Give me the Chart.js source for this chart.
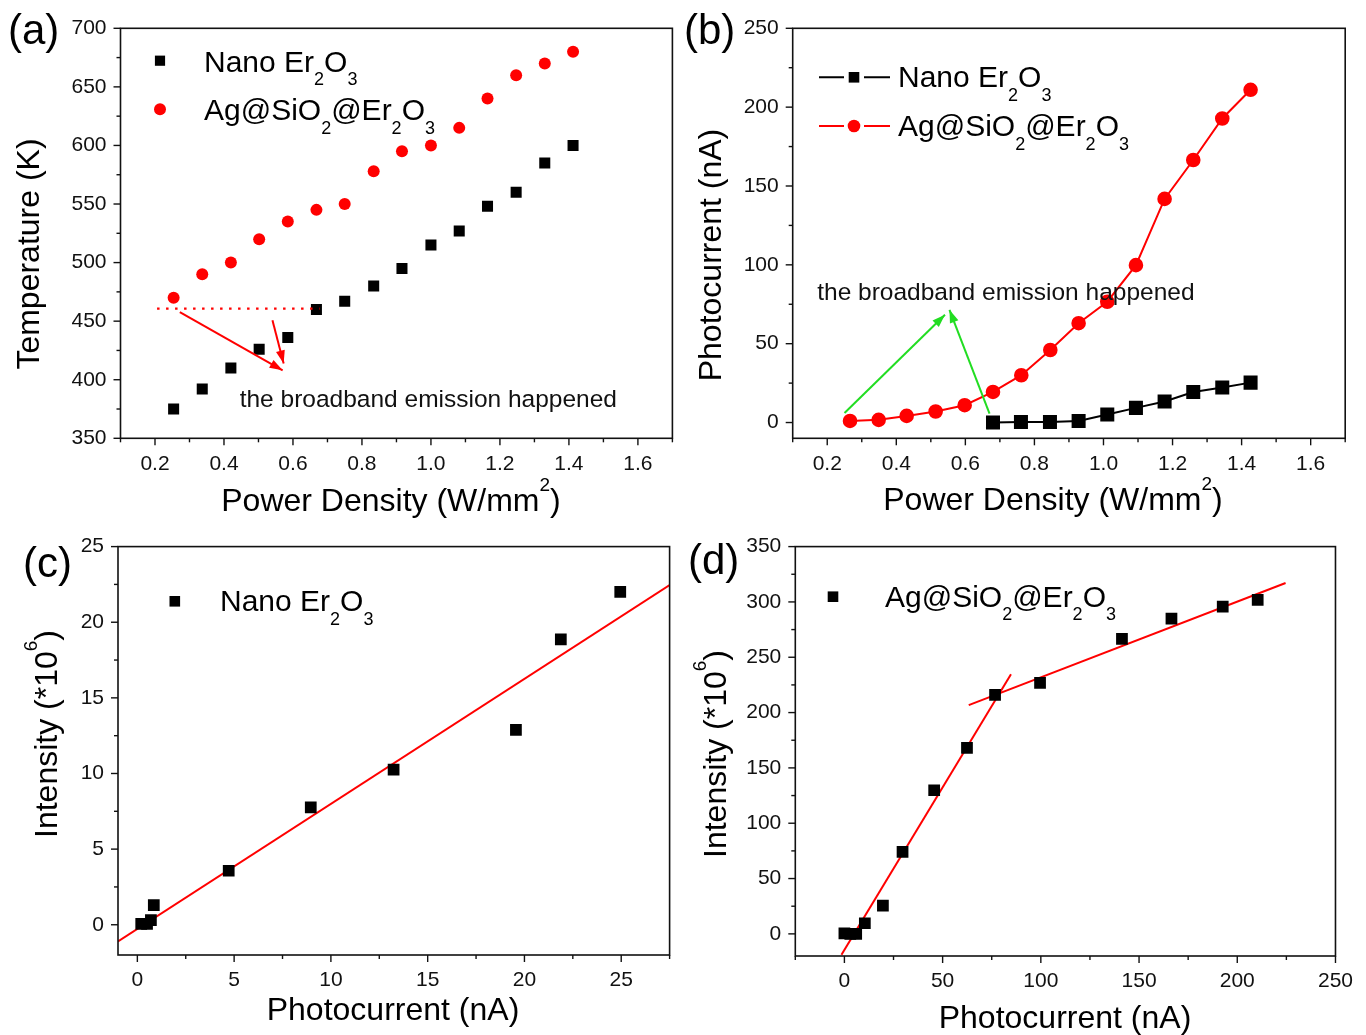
<!DOCTYPE html>
<html>
<head>
<meta charset="utf-8">
<script src="https://cdn.jsdelivr.net/npm/chart.js@4.4.1/dist/chart.umd.min.js"></script>
<style>
  body { margin: 0; background: #fff; }
  .panel { position: absolute; }
</style>
</head>
<body>
<div class="panel" style="left:0;top:0"><canvas id="chartA" width="683" height="520"></canvas></div>
<div class="panel" style="left:683px;top:0"><canvas id="chartB" width="683" height="520"></canvas></div>
<div class="panel" style="left:0;top:520px"><canvas id="chartC" width="683" height="515"></canvas></div>
<div class="panel" style="left:683px;top:520px"><canvas id="chartD" width="683" height="515"></canvas></div>
<script>
// (a) temperature vs power density
const powerA = [0.254, 0.337, 0.42, 0.502, 0.585, 0.668, 0.75, 0.834, 0.916, 1.0, 1.082, 1.164, 1.247, 1.33, 1.412];
const tempNano = [375, 392, 410, 426, 436, 460, 467, 480, 495, 515, 527, 548, 560, 585, 600];
const tempAg = [470, 490, 500, 520, 535, 545, 550, 578, 595, 600, 615, 640, 660, 670, 680];
const dottedAx = [0.206, 0.677], dottedAy = [460.7, 460.7];
const arrowA1x = [0.272, 0.57], arrowA1y = [457.8, 408];
const arrowA2x = [0.5405, 0.573], arrowA2y = [450.7, 413.8];
const noteA = [0.4455, 377];

// (b) photocurrent vs power density
const powerAgB = [0.266, 0.349, 0.43, 0.514, 0.598, 0.68, 0.762, 0.846, 0.928, 1.011, 1.094, 1.177, 1.26, 1.344, 1.426];
const currentAg = [1, 1.7, 4.2, 7, 11, 19.4, 30, 46, 63, 76.6, 99.8, 141.8, 166.5, 192.8, 211];
const powerNanoB = [0.68, 0.761, 0.845, 0.928, 1.011, 1.094, 1.177, 1.26, 1.344, 1.426];
const currentNano = [0, 0.4, 0.4, 1, 5.1, 9.3, 13.3, 19.4, 22.2, 25.3];
const arrowB1x = [0.25, 0.541], arrowB1y = [6.1, 68.4];
const arrowB2x = [0.67, 0.554], arrowB2y = [5.7, 71.5];
const noteB = [0.171, 77.6];

// (c) intensity vs photocurrent, nano
const currentC = [0.2, 0.5, 0.7, 0.85, 4.72, 8.96, 13.24, 19.56, 21.88, 24.95];
const intensityC = [0.05, 0.05, 0.3, 1.3, 3.57, 7.76, 10.25, 12.88, 18.87, 22.0];
const fitCx = [-1, 27.5], fitCy = [-1.1, 22.45];

// (d) intensity vs photocurrent, Ag@SiO2
const currentD = [0, 3, 6, 10.4, 19.6, 29.6, 45.7, 62.4, 76.7, 99.6, 141.3, 166.5, 192.6, 210.4];
const intensityD = [0.5, 0, 0, 9.6, 25.5, 74, 129.8, 168, 216, 226.8, 266.7, 285, 295.8, 301.8];
const fitD1x = [-1.5, 84.8], fitD1y = [-18.9, 234.6];
const fitD2x = [63.3, 224.6], fitD2y = [206.7, 317.1];

const FONT = '"Liberation Sans", Arial, sans-serif';
const RED = '#ff0000', GREEN = '#22dd22', BLACK = '#000000';

const pts = (xs, ys) => xs.map((x, i) => ({ x: x, y: ys[i] }));

// text with _x subscripts and ^x superscripts
function richText(ctx, str, x, y, size, align) {
  const parts = [];
  for (let i = 0; i < str.length; i++) {
    const c = str[i];
    if ((c === '_' || c === '^') && i + 1 < str.length) {
      parts.push({ t: str[i + 1], k: c });
      i++;
    } else if (parts.length && !parts[parts.length - 1].k) {
      parts[parts.length - 1].t += c;
    } else {
      parts.push({ t: c, k: '' });
    }
  }
  const fontOf = p => (p.k ? Math.round(size * 0.6) : size) + 'px ' + FONT;
  let total = 0;
  parts.forEach(p => { ctx.font = fontOf(p); p.w = ctx.measureText(p.t).width; total += p.w; });
  let cx = align === 'center' ? x - total / 2 : x;
  ctx.textAlign = 'left';
  ctx.textBaseline = 'alphabetic';
  parts.forEach(p => {
    ctx.font = fontOf(p);
    const dy = p.k === '_' ? size * 0.45 : (p.k === '^' ? -size * 0.64 : 0);
    ctx.fillText(p.t, cx, y + dy);
    cx += p.w;
  });
}

function drawMarker(ctx, style, r, x, y, color) {
  ctx.fillStyle = color;
  ctx.beginPath();
  if (style === 'rect') {
    const s = r * Math.SQRT1_2;
    ctx.rect(x - s, y - s, 2 * s, 2 * s);
  } else {
    ctx.arc(x, y, r, 0, Math.PI * 2);
  }
  ctx.fill();
}

const figurePlugin = {
  id: 'figure',
  afterDatasetsDraw(chart) {
    const ctx = chart.ctx;
    chart.data.datasets.forEach((ds, i) => {
      if (!ds.arrow) return;
      const d = chart.getDatasetMeta(i).data;
      const a = d[d.length - 2], b = d[d.length - 1];
      const ang = Math.atan2(b.y - a.y, b.x - a.x);
      ctx.save();
      ctx.fillStyle = ds.borderColor;
      ctx.translate(b.x, b.y);
      ctx.rotate(ang);
      ctx.beginPath();
      ctx.moveTo(0, 0);
      ctx.lineTo(-13, -4.5);
      ctx.lineTo(-13, 4.5);
      ctx.closePath();
      ctx.fill();
      ctx.restore();
    });
  },
  afterDraw(chart, args, o) {
    const ctx = chart.ctx;
    const area = chart.chartArea;
    const xs = chart.scales.x, ys = chart.scales.y;
    ctx.save();

    // frame
    ctx.strokeStyle = '#111';
    ctx.lineWidth = 1.6;
    ctx.strokeRect(area.left, area.top, area.right - area.left, area.bottom - area.top);

    // major + minor ticks, pointing out
    ctx.lineWidth = 1.4;
    const tickRun = (scale, minor, isX) => {
      const ratio = Math.round(scale.options.ticks.stepSize / minor);
      const k0 = Math.ceil(scale.min / minor - 1e-9), k1 = Math.floor(scale.max / minor + 1e-9);
      for (let k = k0; k <= k1; k++) {
        const p = scale.getPixelForValue(k * minor);
        const len = k % ratio === 0 ? 7 : 4;
        ctx.beginPath();
        if (isX) { ctx.moveTo(p, area.bottom); ctx.lineTo(p, area.bottom + len); }
        else { ctx.moveTo(area.left, p); ctx.lineTo(area.left - len, p); }
        ctx.stroke();
      }
    };
    tickRun(xs, o.minorX, true);
    tickRun(ys, o.minorY, false);

    // legend
    const lg = o.legend;
    let row = 0;
    chart.data.datasets.forEach(ds => {
      if (!ds.label) return;
      const y = lg.y + row * lg.dy;
      if (lg.line) {
        ctx.strokeStyle = ds.borderColor;
        ctx.lineWidth = 2;
        ctx.beginPath();
        ctx.moveTo(lg.lineFrom, y); ctx.lineTo(lg.x - 10, y);
        ctx.moveTo(lg.x + 10, y); ctx.lineTo(lg.lineTo, y);
        ctx.stroke();
      }
      drawMarker(ctx, ds.pointStyle, ds.legendRadius || ds.pointRadius, lg.x, y, ds.backgroundColor);
      ctx.fillStyle = BLACK;
      richText(ctx, ds.label, lg.textX, y + lg.shift, 30, 'left');
      row++;
    });

    // notes in data coordinates
    (o.notes || []).forEach(n => {
      ctx.fillStyle = '#111';
      richText(ctx, n.text, xs.getPixelForValue(n.x), ys.getPixelForValue(n.y), 24.5, 'left');
    });

    // axis titles
    ctx.fillStyle = BLACK;
    richText(ctx, o.xTitle.text, o.xTitle.x, o.xTitle.y, 32, 'center');
    ctx.save();
    ctx.translate(o.yTitle.x, o.yTitle.y);
    ctx.rotate(-Math.PI / 2);
    richText(ctx, o.yTitle.text, 0, 0, 32, 'center');
    ctx.restore();

    // panel letter
    richText(ctx, o.panel.text, o.panel.x, o.panel.y, 42, 'left');
    ctx.restore();
  }
};

function axis(min, max, step, digits, size, isX) {
  return {
    type: 'linear',
    min: min,
    max: max,
    grid: { display: false, drawTicks: false },
    border: { display: false },
    ticks: {
      stepSize: step,
      autoSkip: false,
      maxRotation: 0,
      padding: isX ? 13 : 14,
      color: '#111',
      font: { family: FONT, size: 21 },
      callback: v => Number(v).toFixed(digits)
    },
    afterBuildTicks: s => {
      const out = [];
      for (let k = Math.ceil(min / step - 1e-9); k * step <= max + 1e-9; k++) {
        out.push({ value: +(k * step).toFixed(6) });
      }
      s.ticks = out;
    },
    afterFit: s => { if (isX) s.height = size; else s.width = size; }
  };
}

function makeChart(id, w, h, area, xAx, yAx, datasets, fig) {
  return new Chart(document.getElementById(id), {
    type: 'scatter',
    data: { datasets: datasets },
    options: {
      responsive: false,
      animation: false,
      layout: { padding: { left: 0, top: area.t, right: w - area.r, bottom: 0 } },
      scales: {
        x: axis(xAx[0], xAx[1], xAx[2], xAx[3], h - area.b, true),
        y: axis(yAx[0], yAx[1], yAx[2], yAx[3], area.l, false)
      },
      plugins: { legend: { display: false }, tooltip: { enabled: false }, figure: fig }
    },
    plugins: [figurePlugin]
  });
}

const lineSet = (xs, ys, color, extra) => Object.assign({
  data: pts(xs, ys), showLine: true, borderColor: color, backgroundColor: color,
  borderWidth: 2, pointRadius: 0
}, extra || {});

// (a)
makeChart('chartA', 683, 520, { l: 120.5, t: 28.3, r: 672.4, b: 438.3 },
  [0.1, 1.7, 0.2, 1], [350, 700, 50, 0],
  [
    lineSet(dottedAx, dottedAy, RED, { borderDash: [2.5, 6.5], borderWidth: 2.2 }),
    lineSet(arrowA1x, arrowA1y, RED, { arrow: true }),
    lineSet(arrowA2x, arrowA2y, RED, { arrow: true }),
    { label: 'Nano Er_2O_3', data: pts(powerA, tempNano), pointStyle: 'rect', pointRadius: 7.8, legendRadius: 7.2,
      backgroundColor: BLACK, borderColor: BLACK, borderWidth: 0 },
    { label: 'Ag@SiO_2@Er_2O_3', data: pts(powerA, tempAg), pointStyle: 'circle', pointRadius: 6,
      backgroundColor: RED, borderColor: RED, borderWidth: 0 }
  ],
  {
    minorX: 0.1, minorY: 25,
    legend: { x: 160, y: 60.7, dy: 48.6, textX: 204, shift: 11 },
    notes: [{ text: 'the broadband emission happened', x: noteA[0], y: noteA[1] }],
    xTitle: { text: 'Power Density (W/mm^2)', x: 391, y: 511 },
    yTitle: { text: 'Temperature (K)', x: 39, y: 254 },
    panel: { text: '(a)', x: 8, y: 44 }
  });

// (b)
makeChart('chartB', 683, 520, { l: 109.7, t: 28.3, r: 662.2, b: 438.3 },
  [0.1, 1.7, 0.2, 1], [-10, 250, 50, 0],
  [
    lineSet(arrowB1x, arrowB1y, GREEN, { arrow: true }),
    lineSet(arrowB2x, arrowB2y, GREEN, { arrow: true }),
    { label: 'Nano Er_2O_3', data: pts(powerNanoB, currentNano), showLine: true, pointStyle: 'rect', pointRadius: 8.5,
      legendRadius: 7.5, backgroundColor: BLACK, borderColor: BLACK, borderWidth: 2 },
    { label: 'Ag@SiO_2@Er_2O_3', data: pts(powerAgB, currentAg), showLine: true, pointStyle: 'circle', pointRadius: 6.3,
      backgroundColor: RED, borderColor: RED, borderWidth: 2 }
  ],
  {
    minorX: 0.1, minorY: 25,
    legend: { x: 171, y: 77.3, dy: 48.7, textX: 215, shift: 10 },
    notes: [{ text: 'the broadband emission happened', x: noteB[0], y: noteB[1] }],
    xTitle: { text: 'Power Density (W/mm^2)', x: 370, y: 510 },
    yTitle: { text: 'Photocurrent (nA)', x: 38, y: 255 },
    panel: { text: '(b)', x: 1, y: 44 }
  });
figureLegendLines('chartB', 136, 207);

// (c)
makeChart('chartC', 683, 515, { l: 118, t: 25, r: 669.6, b: 435 },
  [-1, 27.5, 5, 0], [-2, 25, 5, 0],
  [
    { label: 'Nano Er_2O_3', data: pts(currentC, intensityC), pointStyle: 'rect', pointRadius: 8.3,
      legendRadius: 7.5, backgroundColor: BLACK, borderColor: BLACK, borderWidth: 0 },
    lineSet(fitCx, fitCy, RED)
  ],
  {
    minorX: 2.5, minorY: 2.5,
    legend: { x: 174.8, y: 81.3, dy: 0, textX: 220, shift: 10 },
    xTitle: { text: 'Photocurrent (nA)', x: 393, y: 500 },
    yTitle: { text: 'Intensity (*10^6)', x: 57, y: 214 },
    panel: { text: '(c)', x: 23, y: 57 }
  });

// (d)
makeChart('chartD', 683, 515, { l: 112.3, t: 25, r: 664.3, b: 436 },
  [-25, 250, 50, 0], [-20, 350, 50, 0],
  [
    { label: 'Ag@SiO_2@Er_2O_3', data: pts(currentD, intensityD), pointStyle: 'rect', pointRadius: 8.3,
      legendRadius: 7.5, backgroundColor: BLACK, borderColor: BLACK, borderWidth: 0 },
    lineSet(fitD1x, fitD1y, RED),
    lineSet(fitD2x, fitD2y, RED)
  ],
  {
    minorX: 25, minorY: 25,
    legend: { x: 150, y: 76.7, dy: 0, textX: 202, shift: 10 },
    xTitle: { text: 'Photocurrent (nA)', x: 382, y: 508 },
    yTitle: { text: 'Intensity (*10^6)', x: 43, y: 234 },
    panel: { text: '(d)', x: 5, y: 54 }
  });

// legend of (b) shows line samples around the markers
function figureLegendLines(id, from, to) {
  const chart = Chart.getChart(id);
  Object.assign(chart.options.plugins.figure.legend, { line: true, lineFrom: from, lineTo: to });
  chart.update();
}
</script>
</body>
</html>
